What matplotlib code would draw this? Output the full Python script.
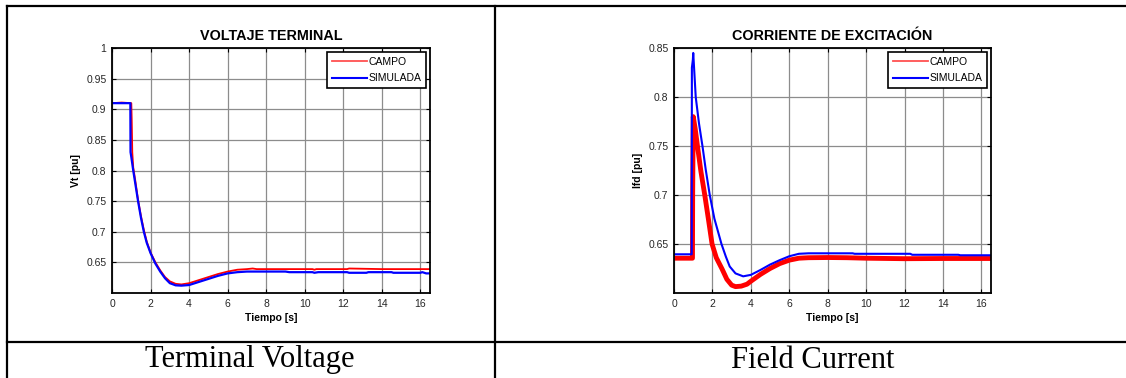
import matplotlib.pyplot as plt
from matplotlib.lines import Line2D

plt.rcParams['font.family'] = ['Liberation Sans', 'DejaVu Sans']

# Terminal voltage, field measurement (CAMPO) and simulation (SIMULADA)
vt_campo_t = [0, 0.5, 1.0, 1.02, 1.05, 1.1, 1.2, 1.35, 1.5, 1.65, 1.8, 2.0, 2.25, 2.5, 2.75, 3.0,
              3.3, 3.6, 4.0, 4.5, 5.0, 5.5, 6.0, 6.5, 7.0, 7.3, 7.5, 8.0, 10.4, 10.5, 10.6, 12.2,
              12.3, 14.0, 16.5]
vt_campo = [0.910, 0.911, 0.910, 0.885, 0.83, 0.805, 0.785, 0.752, 0.726, 0.703, 0.684, 0.666, 0.650,
            0.637, 0.626, 0.619, 0.615, 0.614, 0.616, 0.621, 0.626, 0.631, 0.635, 0.638, 0.639,
            0.640, 0.639, 0.639, 0.639, 0.638, 0.639, 0.639, 0.640, 0.639, 0.639]
vt_sim_t = [0, 0.5, 0.95, 0.96, 1.0, 1.1, 1.2, 1.35, 1.5, 1.65, 1.8, 2.0, 2.25, 2.5, 2.75, 3.0,
            3.3, 3.6, 4.0, 4.5, 5.0, 5.5, 6.0, 6.5, 7.0, 9.0, 9.2, 10.4, 10.5, 10.7, 12.2, 12.3,
            13.2, 13.3, 14.5, 14.6, 16.0, 16.1, 16.3, 16.5]
vt_sim = [0.910, 0.910, 0.910, 0.83, 0.822, 0.800, 0.780, 0.750, 0.723, 0.700, 0.682, 0.665, 0.648,
          0.635, 0.624, 0.616, 0.6125, 0.612, 0.613, 0.618, 0.623, 0.628, 0.632, 0.634, 0.635,
          0.635, 0.634, 0.634, 0.633, 0.634, 0.634, 0.633, 0.633, 0.634, 0.634, 0.633, 0.633,
          0.634, 0.632, 0.632]

# Field current
ifd_campo_t = [0, 0.5, 0.96, 0.97, 1.0, 1.1, 1.22, 1.4, 1.6, 1.8, 1.98, 2.2, 2.5, 2.75, 3.0, 3.2,
               3.5, 3.8, 4.0, 4.5, 5.0, 5.5, 6.0, 6.5, 7.0, 8.0, 9.0, 10.0, 12.0, 14.0, 16.5]
ifd_campo = [0.6355, 0.6355, 0.6355, 0.700, 0.780, 0.768, 0.750, 0.724, 0.700, 0.674, 0.650, 0.636,
             0.6245, 0.614, 0.608, 0.6065, 0.607, 0.609, 0.612, 0.619, 0.625, 0.630, 0.6335,
             0.6355, 0.636, 0.6362, 0.636, 0.6355, 0.635, 0.6352, 0.6352]
ifd_sim_t = [0, 0.5, 0.92, 0.93, 0.98, 1.0, 1.13, 1.3, 1.48, 1.65, 1.86, 2.1, 2.47, 2.7, 2.9, 3.2,
             3.6, 4.0, 4.5, 5.0, 5.5, 6.0, 6.5, 7.0, 7.5, 9.3, 9.4, 12.3, 12.4, 14.8, 14.9, 16.5]
ifd_sim = [0.6395, 0.6395, 0.6395, 0.830, 0.838, 0.845, 0.800, 0.773, 0.750, 0.726, 0.700, 0.676,
           0.650, 0.637, 0.627, 0.620, 0.617, 0.6185, 0.6235, 0.629, 0.6335, 0.6375, 0.640,
           0.6405, 0.6405, 0.6405, 0.640, 0.640, 0.639, 0.639, 0.6385, 0.6385]

captions = ['Terminal Voltage', 'Field Current']

fig = plt.figure(figsize=(11.26, 3.78), dpi=100)

ax1 = fig.add_axes([0.0995, 0.2249, 0.2824, 0.648])
ax2 = fig.add_axes([0.5986, 0.2249, 0.2815, 0.648])

ax1.plot(vt_campo_t, vt_campo, color='red', lw=1.3)
ax1.plot(vt_sim_t, vt_sim, color='blue', lw=1.6)
ax2.plot(ifd_campo_t, ifd_campo, color='red', lw=3.5, solid_joinstyle='round')
ax2.plot(ifd_sim_t, ifd_sim, color='blue', lw=1.5)

ax1.set_ylim(0.6, 1.0)
ax1.set_yticks([0.65, 0.7, 0.75, 0.8, 0.85, 0.9, 0.95, 1])
ax1.set_yticklabels(['0.65', '0.7', '0.75', '0.8', '0.85', '0.9', '0.95', '1'])
ax2.set_ylim(0.6, 0.85)
ax2.set_yticks([0.65, 0.7, 0.75, 0.8, 0.85])
ax2.set_yticklabels(['0.65', '0.7', '0.75', '0.8', '0.85'])

handles = [Line2D([], [], color='#ff5050', lw=1.3), Line2D([], [], color='blue', lw=1.5)]
for ax, title, ylab in [(ax1, 'VOLTAJE TERMINAL', 'Vt [pu]'),
                        (ax2, 'CORRIENTE DE EXCITACIÓN', 'Ifd [pu]')]:
    ax.set_xlim(0, 16.5)
    ax.set_xticks(range(0, 17, 2))
    ax.grid(True, color='#8c8c8c', lw=0.9)
    ax.set_axisbelow(True)
    ax.tick_params(direction='in', length=3, top=True, right=True, labelsize=7.5,
                   labelcolor='#262626', pad=4)
    for s in ax.spines.values():
        s.set_linewidth(1.3)
    ax.set_title(title, fontsize=10.4, fontweight='bold', pad=6)
    ax.set_xlabel('Tiempo [s]', fontsize=7.5, fontweight='bold', labelpad=3)
    ax.set_ylabel(ylab, fontsize=7.5, fontweight='bold', labelpad=4)
    leg = ax.legend(handles, ['CAMPO', 'SIMULADA'], loc='upper right', fontsize=7.5,
                    handlelength=3.4, handletextpad=0.1, borderpad=0.5, labelspacing=0.6,
                    fancybox=False, framealpha=1, borderaxespad=0.35)
    leg.get_frame().set_edgecolor('black')
    leg.get_frame().set_linewidth(1.2)

# table lines around the two panels
W, H = 1126, 378
lw = 1.6
fig.add_artist(Line2D([7.5 / W, 7.5 / W], [0, 1 - 6 / H], color='black', lw=lw))
fig.add_artist(Line2D([7.5 / W, 1], [1 - 6 / H, 1 - 6 / H], color='black', lw=lw))
fig.add_artist(Line2D([495 / W, 495 / W], [0, 1 - 6 / H], color='black', lw=lw))
fig.add_artist(Line2D([7.5 / W, 1], [1 - 342 / H, 1 - 342 / H], color='black', lw=lw))

fig.text(250 / W, 1 - 360 / H, captions[0], ha='center', va='center', fontsize=22,
         family='Liberation Serif')
fig.text(813 / W, 1 - 360 / H, captions[1], ha='center', va='center', fontsize=22,
         family='Liberation Serif')

fig.savefig('out.png', dpi=100)
